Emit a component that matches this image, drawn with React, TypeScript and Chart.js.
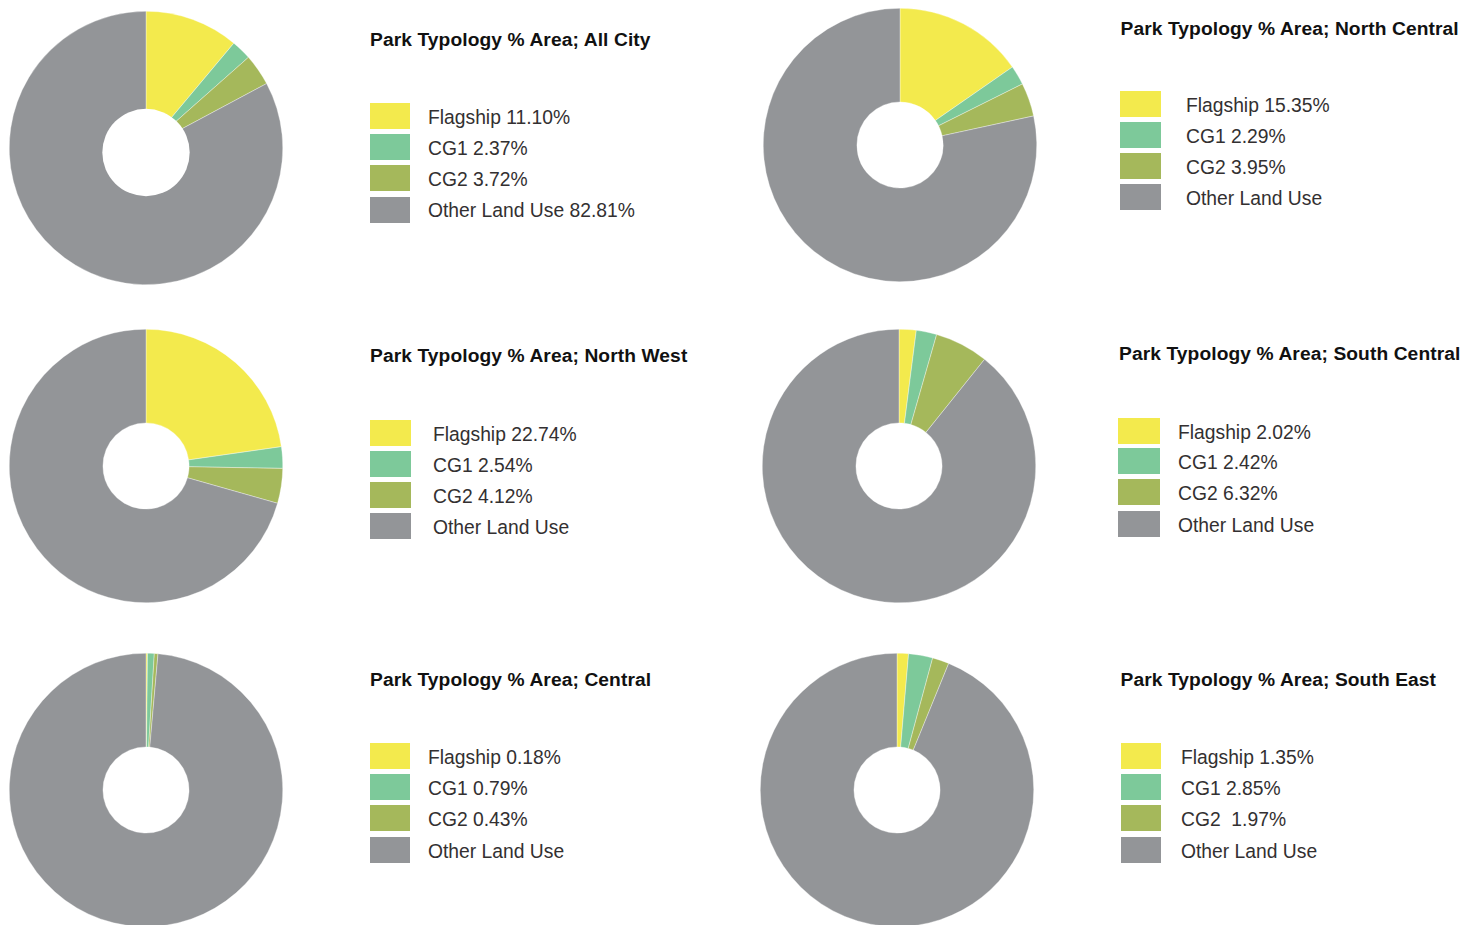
import React, { useEffect, useRef } from "react";
import { Chart, registerables } from "chart.js";

Chart.register(...registerables);

// ---- data ----
const categories = ["Flagship", "CG1", "CG2", "Other Land Use"];
const regions = ["All City", "North Central", "North West", "South Central", "Central", "South East"];
const flagshipValues = [11.1, 15.35, 22.74, 2.02, 0.18, 1.35];
const cg1Values = [2.37, 2.29, 2.54, 2.42, 0.79, 2.85];
const cg2Values = [3.72, 3.95, 4.12, 6.32, 0.43, 1.97];
const otherValues = [82.81, 78.41, 70.6, 89.24, 98.6, 93.83];
const legendTexts = [
  ["Flagship 11.10%", "CG1 2.37%", "CG2 3.72%", "Other Land Use 82.81%"],
  ["Flagship 15.35%", "CG1 2.29%", "CG2 3.95%", "Other Land Use"],
  ["Flagship 22.74%", "CG1 2.54%", "CG2 4.12%", "Other Land Use"],
  ["Flagship 2.02%", "CG1 2.42%", "CG2 6.32%", "Other Land Use"],
  ["Flagship 0.18%", "CG1 0.79%", "CG2 0.43%", "Other Land Use"],
  ["Flagship 1.35%", "CG1 2.85%", "CG2  1.97%", "Other Land Use"],
];

// ---- styles ----
const colors = ["#F3EA4D", "#7DC99A", "#A5B85B", "#939598"];

// ---- layout ----
const R = 137;
const CUT = 0.315;
const layouts = [
  { cx: 146, cy: 148, holeDy: 4.5, tx: 370, tb: 46, sx: 370, sw: 40, tops: [102.7, 134, 165.3, 196.6], lx: 428 },
  { cx: 900, cy: 145, holeDy: 0, tx: 1120.5, tb: 35, sx: 1120, sw: 41, tops: [91, 121.7, 152.7, 184], lx: 1186 },
  { cx: 146, cy: 465.5, holeDy: 0, tx: 370, tb: 362.7, sx: 369.5, sw: 41, tops: [420, 451, 482, 513.3], lx: 433 },
  { cx: 899, cy: 465.5, holeDy: 0, tx: 1119, tb: 360, sx: 1118, sw: 41.5, tops: [417.7, 448.3, 479.3, 511], lx: 1178 },
  { cx: 146, cy: 790, holeDy: 0, tx: 370, tb: 686, sx: 369.5, sw: 40.5, tops: [743.3, 774, 805, 836.7], lx: 428 },
  { cx: 897, cy: 790, holeDy: 0, tx: 1120.5, tb: 686, sx: 1120.7, sw: 40.5, tops: [743.3, 774, 805, 836.7], lx: 1181 },
];

const TITLE_SIZE = 19.2;
const LEGEND_SIZE = 19.3;
const SW_H = 26;

// draws the doughnut hole as a white disc, shifted by holeDy (used where the hole is off-centre)
const offsetHole = {
  id: "offsetHole",
  afterDatasetsDraw(chart: any, _args: any, opts: any) {
    if (!opts || !opts.dy) return;
    const meta = chart.getDatasetMeta(0);
    const arc = meta.data[0];
    if (!arc) return;
    const ctx = chart.ctx;
    ctx.save();
    ctx.beginPath();
    ctx.arc(arc.x, arc.y + opts.dy, arc.outerRadius * CUT + 0.6, 0, Math.PI * 2);
    ctx.fillStyle = "#ffffff";
    ctx.fill();
    ctx.restore();
  },
};

function Donut({ idx }: { idx: number }) {
  const ref = useRef<HTMLCanvasElement | null>(null);
  const L = layouts[idx];
  useEffect(() => {
    if (!ref.current) return;
    const chart = new Chart(ref.current, {
      type: "doughnut",
      data: {
        labels: categories,
        datasets: [
          {
            data: [flagshipValues[idx], cg1Values[idx], cg2Values[idx], otherValues[idx]],
            backgroundColor: colors,
            borderColor: "rgba(255,255,255,0.7)",
            borderWidth: 0.5,
            hoverOffset: 0,
          },
        ],
      },
      options: {
        responsive: false,
        animation: false,
        cutout: L.holeDy ? 0 : `${CUT * 100}%`,
        layout: { padding: 0 },
        events: [],
        plugins: {
          legend: { display: false },
          tooltip: { enabled: false },
          title: { display: false },
          offsetHole: { dy: L.holeDy },
        } as any,
      },
      plugins: [offsetHole],
    });
    return () => chart.destroy();
  }, [idx]);

  return (
    <>
      <canvas
        ref={ref}
        width={2 * R}
        height={2 * R}
        style={{ position: "absolute", left: L.cx - R, top: L.cy - R, width: 2 * R, height: 2 * R }}
      />
      <div
        style={{
          position: "absolute",
          left: L.tx,
          top: L.tb - 0.8465 * TITLE_SIZE,
          fontFamily: "'Liberation Sans', Arial, sans-serif",
          fontWeight: 700,
          fontSize: TITLE_SIZE,
          lineHeight: `${TITLE_SIZE}px`,
          letterSpacing: "0.1px",
          color: "#111111",
          whiteSpace: "pre",
        }}
      >
        {`Park Typology % Area; ${regions[idx]}`}
      </div>
      {categories.map((c, i) => (
        <React.Fragment key={c}>
          <div
            style={{
              position: "absolute",
              left: L.sx,
              top: L.tops[i],
              width: L.sw,
              height: SW_H,
              background: colors[i],
            }}
          />
          <div
            style={{
              position: "absolute",
              left: L.lx,
              top: L.tops[i] + SW_H / 2 - LEGEND_SIZE / 2 + 1.5,
              fontFamily: "'Liberation Sans', Arial, sans-serif",
              fontSize: LEGEND_SIZE,
              lineHeight: `${LEGEND_SIZE}px`,
              color: "#333031",
              whiteSpace: "pre",
            }}
          >
            {legendTexts[idx][i]}
          </div>
        </React.Fragment>
      ))}
    </>
  );
}

export default function App() {
  return (
    <div
      style={{
        position: "fixed",
        left: 0,
        top: 0,
        width: "100vw",
        height: "100vh",
        overflow: "hidden",
        background: "#ffffff",
      }}
    >
      {regions.map((r, i) => (
        <Donut key={r} idx={i} />
      ))}
    </div>
  );
}
